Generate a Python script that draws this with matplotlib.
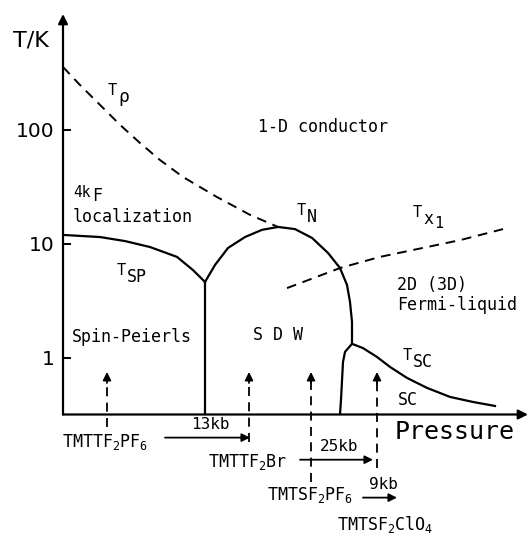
import numpy as np
import matplotlib
matplotlib.use('Agg')
import matplotlib.pyplot as plt

plt.rcParams['font.family'] = 'DejaVu Sans Mono'
plt.rcParams['mathtext.fontset'] = 'custom'
plt.rcParams['mathtext.rm'] = 'DejaVu Sans Mono'
plt.rcParams['mathtext.it'] = 'DejaVu Sans Mono'
plt.rcParams['mathtext.bf'] = 'DejaVu Sans Mono:bold'

# phase boundaries, pressure in arbitrary units, T in K
p_rho = [0, 1.7, 3.7, 5.7, 7.7, 9.7, 12.0, 15.4, 18.7, 21.5]
t_rho = [357, 248, 166, 111, 76.9, 54.5, 38.7, 25.8, 18.0, 14.1]

p_sp = [0, 3.7, 6.2, 8.7, 11.4, 13.0, 14.2]
t_sp = [12.0, 11.5, 10.6, 9.4, 7.7, 5.9, 4.64]

p_n = [14.2, 15.2, 16.5, 18.2, 19.9, 21.5, 23.2, 24.9, 26.5, 27.7, 28.4, 28.7, 28.9, 28.9]
t_n = [4.64, 6.54, 9.22, 11.5, 13.3, 14.1, 13.5, 11.3, 8.34, 6.15, 4.37, 3.10, 2.07, 1.33]

p_sdw_sc = [28.9, 28.2, 28.0, 27.8, 27.7]
t_sdw_sc = [1.33, 1.13, 0.92, 0.43, 0.319]

p_sc = [28.9, 30.0, 31.4, 32.7, 34.4, 36.4, 38.7, 41.0, 43.2]
t_sc = [1.33, 1.22, 1.02, 0.834, 0.668, 0.546, 0.455, 0.411, 0.379]

p_x1 = [22.4, 25.0, 27.7, 31.7, 39.7, 44.0]
t_x1 = [4.1, 5.0, 6.15, 7.7, 10.8, 13.5]

p_sp_sdw = 14.2  # vertical Spin-Peierls / SDW border

# salts placed on the pressure axis
salt_p = [4.4, 18.6, 24.8, 31.4]
salt_t0 = [0.249, 0.184, 0.0823, 0.108]
shift_labels = ['13kb', '25kb', '9kb']
shift_from = [10.2, 23.7, 30.0]
shift_to = [18.7, 31.0, 33.4]
shift_t = [0.2, 0.128, 0.0595]

ymin, ymax = 0.319, 1041
arrow_top = 0.754

fig = plt.figure(figsize=(5.28, 5.35), dpi=100)
ax = fig.add_axes([63 / 528, (535 - 414.5) / 535, 465 / 528, 400.5 / 535])
ax.set_yscale('log')
ax.set_xlim(0, 46.5)
ax.set_ylim(ymin, ymax)
for s in ax.spines.values():
    s.set_visible(False)
ax.set_xticks([])
ax.set_yticks([1, 10, 100])
ax.set_yticklabels(['1', '10', '100'], family='DejaVu Sans', fontsize=14.5)
ax.yaxis.set_minor_locator(matplotlib.ticker.NullLocator())
ax.tick_params(axis='y', direction='in', length=6, width=1.4, pad=6)

# axes with arrows
head = dict(arrowstyle='-|>', lw=1.6, color='k', shrinkA=0, shrinkB=0, mutation_scale=14)
ax.annotate('', xy=(0, 1), xytext=(0, 0), xycoords='axes fraction', arrowprops=head)
ax.annotate('', xy=(1, 0), xytext=(0, 0), xycoords='axes fraction', arrowprops=head)

dash = (0, (5, 3.5))
ax.plot(p_rho, t_rho, color='k', lw=1.4, linestyle=dash)
ax.plot(p_x1, t_x1, color='k', lw=1.4, linestyle=dash)
ax.plot(p_sp, t_sp, color='k', lw=1.6)
ax.plot(p_n, t_n, color='k', lw=1.6)
ax.plot(p_sdw_sc, t_sdw_sc, color='k', lw=1.6)
ax.plot(p_sc, t_sc, color='k', lw=1.6)
ax.plot([p_sp_sdw, p_sp_sdw], [t_sp[-1], ymin], color='k', lw=1.6)

small_head = dict(arrowstyle='-|>', lw=1.3, color='k', shrinkA=0, shrinkB=0, mutation_scale=12)
for p, t0 in zip(salt_p, salt_t0):
    ax.plot([p, p], [t0, arrow_top * 0.85], color='k', lw=1.3, linestyle=dash, clip_on=False)
    ax.annotate('', xy=(p, arrow_top), xytext=(p, arrow_top * 0.8),
                arrowprops=small_head, annotation_clip=False)

for lab, x0, x1, t in zip(shift_labels, shift_from, shift_to, shift_t):
    ax.annotate('', xy=(x1, t), xytext=(x0, t), arrowprops=small_head, annotation_clip=False)
    ax.text((x0 + x1) / 2 + 0.3, t * 1.13, lab, fontsize=11.5, ha='center', va='bottom')


def sub_label(x, t, main, subs, main_size=11):
    # main symbol a bit smaller, subscripts near full size and lowered
    ax.annotate(main, (x, t), xytext=(0, 0), textcoords='offset points',
                fontsize=main_size, va='baseline', annotation_clip=False)
    for txt, dx, dy, size in subs:
        ax.annotate(txt, (x, t), xytext=(dx, dy), textcoords='offset points',
                    fontsize=size, va='baseline', annotation_clip=False)


fs = 12
sub_label(4.5, 203, 'T', [('\u03c1', 7.2, -5, 13)])
sub_label(1.0, 25.8, '4k', [('F', 13.5, -3, 12)], main_size=10.5)
sub_label(23.4, 18.0, 'T', [('N', 7.2, -5, 12)])
sub_label(35.0, 17.3, 'T', [('x', 7.2, -5, 12), ('1', 15, -8, 11)])
sub_label(5.4, 5.35, 'T', [('SP', 7.2, -5, 12)])
sub_label(34.0, 0.96, 'T', [('SC', 7.2, -5, 12)])

ax.text(19.5, 106, '1-D conductor', fontsize=fs, va='center')
ax.text(1.0, 17.3, 'localization', fontsize=fs, va='center')
ax.text(0.9, 1.52, 'Spin-Peierls', fontsize=fs, va='center')
ax.text(21.5, 1.58, 'S D W', fontsize=fs, va='center', ha='center')
ax.text(33.4, 4.38, '2D (3D)', fontsize=fs, va='center')
ax.text(33.4, 2.94, 'Fermi-liquid', fontsize=fs, va='center')
ax.text(33.5, 0.43, 'SC', fontsize=fs, va='center')
ax.text(33.2, 0.223, 'Pressure', fontsize=18, va='center')

ax.text(-0.1, 0.182, r'TMTTF$_2$PF$_6$', fontsize=fs, va='center')
ax.text(14.5, 0.122, r'TMTTF$_2$Br', fontsize=fs, va='center')
ax.text(20.4, 0.0629, r'TMTSF$_2$PF$_6$', fontsize=fs, va='center')
ax.text(27.4, 0.0347, r'TMTSF$_2$ClO$_4$', fontsize=fs, va='center')

fig.text(13 / 528, 1 - 40 / 535, 'T/K', family='DejaVu Sans', fontsize=16, va='center')

fig.savefig('out.png', dpi=100)
